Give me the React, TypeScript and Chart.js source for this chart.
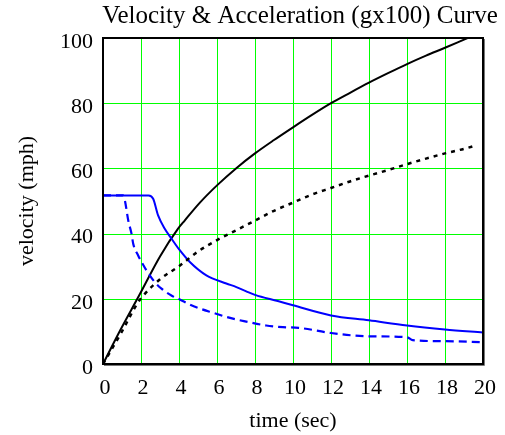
import React, { useEffect, useRef } from "react";
import { Chart, registerables } from "chart.js";

Chart.register(...registerables);

const TITLE = "Velocity & Acceleration (gx100) Curve";
const X_TITLE = "time (sec)";
const Y_TITLE = "velocity (mph)";

// Velocity (solid black)
const vel1T = [0, 0.9, 1.9, 3, 3.95, 4.3, 5.1, 6, 7, 8, 9, 10, 11, 12, 13, 14, 15, 16, 17, 18, 19, 20];
const vel1V = [0, 10.3, 21, 33, 41.5, 44, 49.5, 54.8, 60, 64.6, 68.7, 72.6, 76.4, 80, 83.2, 86.3, 89.2, 92, 94.6, 97, 99.5, 102];

// Velocity (dotted black)
const vel2T = [0, 1, 1.8, 2.2, 3, 4, 5, 6, 7, 8, 9, 10, 11, 12, 13, 14, 15, 16, 17, 18, 19, 19.6];
const vel2V = [0, 10, 18.5, 21.5, 26, 30, 34.5, 38, 41, 44, 47, 49.5, 52, 54, 56, 57.8, 59.5, 61.3, 63, 64.6, 66, 67];

// Acceleration (solid blue)
const acc1T = [0, 2.4, 2.64, 2.9, 3.25, 3.6, 4.04, 4.57, 5.44, 6.49, 7.02, 7.54, 8, 9.2, 10, 12, 14, 16, 18, 20];
const acc1V = [51.7, 51.7, 50.7, 45.6, 41.5, 38.5, 34.9, 31.3, 27.2, 24.7, 23.6, 22.3, 21.2, 19.3, 18.0, 14.9, 13.4, 11.8, 10.6, 9.7];

// Acceleration (dashed blue)
const acc2T = [0, 1.05, 1.15, 1.33, 1.5, 1.59, 1.85, 2.03, 2.29, 2.73, 3.08, 3.6, 4.04, 4.65, 5.8, 6.84, 7.54, 8.59, 9.47, 10.3, 12, 14, 16, 16.3, 18, 20];
const acc2V = [51.7, 51.7, 50.2, 44, 40, 36.9, 33.3, 31.3, 28.7, 25.1, 23.1, 21, 19.8, 18, 15.7, 13.9, 13, 11.8, 11.3, 11.1, 9.5, 8.5, 8.2, 7.3, 7.0, 6.7];

const X_MIN = 0, X_MAX = 20, X_STEP = 2;
const Y_MIN = 0, Y_MAX = 100, Y_STEP = 20;
const X_GRID = [2, 4, 6, 8, 10, 12, 14, 16, 18];
const Y_GRID = [20, 40, 60, 80];

const FONT = "'Liberation Serif', 'Times New Roman', serif";
const GRID_COLOR = "#00ff00";

const toPts = (t: number[], v: number[]) => t.map((x, i) => ({ x, y: v[i] }));

const framePlugin = {
  id: "frame",
  beforeDatasetsDraw(chart: any) {
    const { ctx, chartArea, scales } = chart;
    const { left, top, right, bottom } = chartArea;
    ctx.save();
    ctx.fillStyle = GRID_COLOR;
    X_GRID.forEach((v) => {
      const px = Math.round(scales.x.getPixelForValue(v));
      ctx.fillRect(px, Math.round(top), 1, Math.round(bottom - top));
    });
    Y_GRID.forEach((v) => {
      const py = Math.round(scales.y.getPixelForValue(v));
      ctx.fillRect(Math.round(left), py, Math.round(right - left), 1);
    });
    ctx.restore();
  },
  afterDatasetsDraw(chart: any) {
    const { ctx, chartArea } = chart;
    const { left, top, right, bottom } = chartArea;
    ctx.save();
    ctx.strokeStyle = "#000";
    ctx.lineWidth = 2;
    ctx.strokeRect(left, top, right - left, bottom - top);
    ctx.strokeStyle = "#777";
    ctx.lineWidth = 1;
    ctx.beginPath();
    ctx.moveTo(right + 1.5, top + 1);
    ctx.lineTo(right + 1.5, bottom + 1.5);
    ctx.lineTo(left + 1, bottom + 1.5);
    ctx.stroke();
    ctx.restore();
  },
  afterDraw(chart: any) {
    const { ctx } = chart;
    ctx.save();
    ctx.fillStyle = "#000";
    ctx.font = `25px ${FONT}`;
    ctx.textAlign = "center";
    ctx.textBaseline = "alphabetic";
    ctx.fillText(TITLE, 300, 23);
    ctx.restore();
  },
};

export default function App() {
  const ref = useRef<HTMLCanvasElement | null>(null);

  useEffect(() => {
    if (!ref.current) return;
    const chart = new Chart(ref.current, {
      type: "line",
      data: {
        datasets: [
          {
            data: toPts(acc2T, acc2V),
            borderColor: "#0000ff",
            borderWidth: 2.2,
            borderDash: [8, 5],
            pointRadius: 0,
            cubicInterpolationMode: "monotone",
            fill: false,
          },
          {
            data: toPts(vel2T, vel2V),
            borderColor: "#000000",
            borderWidth: 2.5,
            borderDash: [4, 5],
            pointRadius: 0,
            cubicInterpolationMode: "monotone",
            fill: false,
          },
          {
            data: toPts(acc1T, acc1V),
            borderColor: "#0000ff",
            borderWidth: 2,
            pointRadius: 0,
            cubicInterpolationMode: "monotone",
            fill: false,
          },
          {
            data: toPts(vel1T, vel1V),
            borderColor: "#000000",
            borderWidth: 2,
            pointRadius: 0,
            cubicInterpolationMode: "monotone",
            fill: false,
          },
        ],
      },
      options: {
        responsive: false,
        animation: false,
        layout: { padding: { top: 38, right: 21, left: 0, bottom: 0 } },
        plugins: {
          legend: { display: false },
          title: { display: false },
          tooltip: { enabled: false },
        },
        scales: {
          x: {
            type: "linear",
            min: X_MIN,
            max: X_MAX,
            ticks: {
              stepSize: X_STEP,
              color: "#000",
              font: { family: FONT, size: 22 },
              padding: 11,
              labelOffset: 2,
              maxRotation: 0,
              autoSkip: false,
            },
            grid: { display: false, drawTicks: false },
            border: { display: false },
            title: {
              display: true,
              text: X_TITLE,
              color: "#000",
              font: { family: FONT, size: 22 },
              padding: { top: 0, bottom: 1 },
            },
            afterFit: (s: any) => {
              s.height = 71;
            },
          },
          y: {
            type: "linear",
            min: Y_MIN,
            max: Y_MAX,
            ticks: {
              stepSize: Y_STEP,
              color: "#000",
              font: { family: FONT, size: 22 },
              padding: 10,
              labelOffset: 4,
              autoSkip: false,
            },
            grid: { display: false, drawTicks: false },
            border: { display: false },
            title: {
              display: true,
              text: Y_TITLE,
              color: "#000",
              font: { family: FONT, size: 22 },
              padding: { top: 14, bottom: 0 },
            },
            afterFit: (s: any) => {
              s.width = 103;
            },
          },
        },
      },
      plugins: [framePlugin],
    });
    return () => chart.destroy();
  }, []);

  return (
    <div style={{ position: "fixed", left: 0, top: 0, width: 505, height: 435, background: "#fff" }}>
      <canvas ref={ref} width={505} height={435} style={{ display: "block" }} />
    </div>
  );
}
